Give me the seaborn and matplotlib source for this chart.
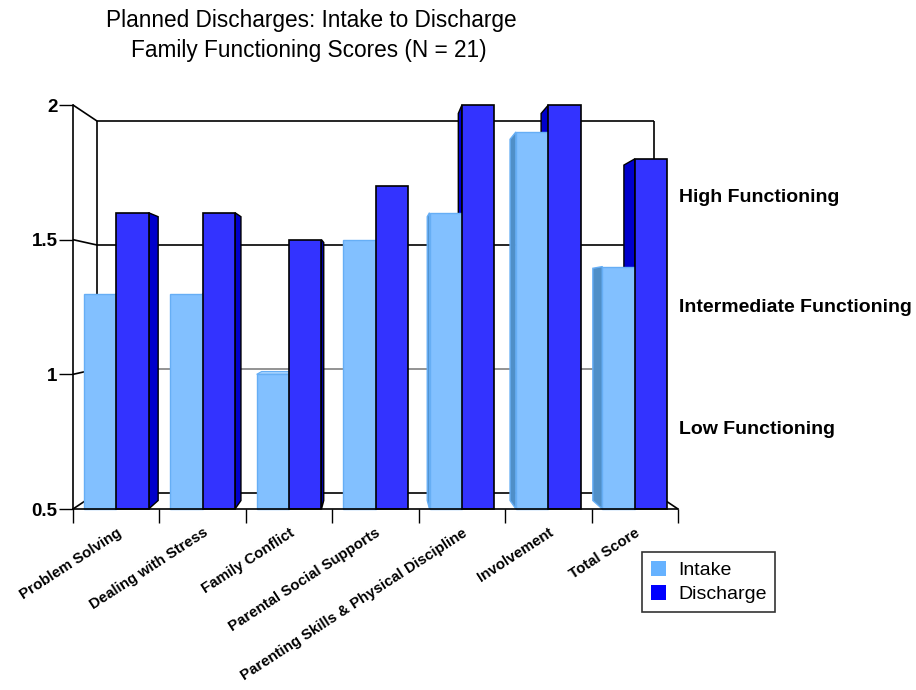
import matplotlib
matplotlib.use("Agg")
import matplotlib.pyplot as plt
from matplotlib.patches import Polygon, Patch
import seaborn as sns
import pandas as pd

categories = [
    "Problem Solving",
    "Dealing with Stress",
    "Family Conflict",
    "Parental Social Supports",
    "Parenting Skills & Physical Discipline",
    "Involvement",
    "Total Score",
]
intake = [1.3, 1.3, 1.0, 1.5, 1.6, 1.9, 1.4]
discharge = [1.6, 1.6, 1.5, 1.7, 2.0, 2.0, 1.8]
series = ["Intake", "Discharge"]
y_ticks = [0.5, 1.0, 1.5, 2.0]
y_tick_labels = ["0.5", "1", "1.5", "2"]
band_labels = ["High Functioning", "Intermediate Functioning", "Low Functioning"]

df = pd.DataFrame({
    "Category": categories * 2,
    "Score": intake + discharge,
    "Time": [series[0]] * len(categories) + [series[1]] * len(categories),
})

sns.set_style("white")
plt.rcParams["font.family"] = ["Liberation Sans", "DejaVu Sans"]
plt.rcParams["text.color"] = "black"
plt.rcParams["xtick.color"] = "black"
plt.rcParams["ytick.color"] = "black"
plt.rcParams["axes.labelcolor"] = "black"

front = {"Intake": "#82C0FF", "Discharge": "#3333FF"}
side = {"Intake": "#4F8FC8", "Discharge": "#0000CC"}
edge = {"Intake": "#66AEF5", "Discharge": "#000000"}
top_col = {"Intake": "#A8D4FF", "Discharge": "#6666FF"}

fig = plt.figure(figsize=(9.16, 6.9), dpi=100)
ax = fig.add_axes([73 / 916, 181 / 690, 605 / 916, 404 / 690])

sns.barplot(data=df, x="Category", y="Score", hue="Time", hue_order=series,
            palette=[front[s] for s in series], width=0.75, saturation=1,
            legend=False, ax=ax)

y0, y1 = 0.5, 2.0
ax.set_ylim(y0, y1)
ax.set_xlim(-0.5, len(categories) - 0.5)

# perspective: vanishing point and depth fractions
vpx, vpy = 3.0, 1.25
wall_f = 0.08
bar_f = 0.042


def persp(x, y, f):
    return x + f * (vpx - x), y + f * (vpy - y)


# back wall, floor and left wall lines
xl, xr = -0.5, len(categories) - 0.5
bl = persp(xl, y0, wall_f)
br = persp(xr, y0, wall_f)
tl = persp(xl, y1, wall_f)
tr = persp(xr, y1, wall_f)
lk = dict(color="black", lw=1.2, zorder=1, clip_on=False, solid_capstyle="butt")
ax.plot([tl[0], tr[0]], [tl[1], tr[1]], **lk)
ax.plot([tl[0], bl[0]], [tl[1], bl[1]], **lk)
ax.plot([tr[0], br[0]], [tr[1], br[1]], **lk)
ax.plot([bl[0], br[0]], [bl[1], br[1]], **lk)
ax.plot([xr, br[0]], [y0, br[1]], **lk)
for v in y_ticks:
    p = persp(xl, v, wall_f)
    ax.plot([xl, p[0]], [v, p[1]], **lk)
for v, c in [(1.5, "black"), (1.0, "#808080")]:
    a = persp(xl, v, wall_f)
    b = persp(xr, v, wall_f)
    ax.plot([a[0], b[0]], [a[1], b[1]], color=c, lw=1.2, zorder=1)

# front faces from seaborn, with side and top faces added in perspective
for name, cont in zip(series, ax.containers):
    for bar in cont:
        h = bar.get_height()
        bar.set_y(y0)
        bar.set_height(h - y0)
        bar.set_edgecolor(edge[name])
        bar.set_linewidth(1.2 if name == "Discharge" else 1.0)
        bar.set_zorder(4)
        bar.set_clip_on(False)
        x0 = bar.get_x()
        w = bar.get_width()
        top = h
        if x0 + w < vpx - 1e-9:
            xe = x0 + w
        elif x0 > vpx + 1e-9:
            xe = x0
        else:
            xe = None
        if xe is not None:
            pts = [(xe, y0), (xe, top), persp(xe, top, bar_f), persp(xe, y0, bar_f)]
            ax.add_patch(Polygon(pts, closed=True, facecolor=side[name],
                                 edgecolor=edge[name], lw=1.0, zorder=3,
                                 clip_on=False))
        if top < vpy:
            pts = [(x0, top), (x0 + w, top), persp(x0 + w, top, bar_f),
                   persp(x0, top, bar_f)]
            ax.add_patch(Polygon(pts, closed=True, facecolor=top_col[name],
                                 edgecolor=edge[name], lw=0.8, zorder=3,
                                 clip_on=False))

# axes styling
for s in ["top", "right"]:
    ax.spines[s].set_visible(False)
for s in ["left", "bottom"]:
    ax.spines[s].set_color("black")
    ax.spines[s].set_linewidth(1.2)
    ax.spines[s].set_zorder(5)

ax.set_yticks(y_ticks)
ax.set_yticklabels(y_tick_labels, fontsize=13.5, fontweight="bold")
ax.tick_params(axis="y", direction="out", length=10, width=1, color="black", pad=1,
               left=True)

ax.set_xticks(range(len(categories)))
ax.set_xticks([i - 0.5 for i in range(len(categories) + 1)], minor=True)
ax.tick_params(axis="x", which="major", length=0, pad=12)
ax.tick_params(axis="x", which="minor", direction="out", length=10, width=1,
               color="black", bottom=True)
ax.set_xticklabels(categories, rotation=33, ha="right", rotation_mode="anchor",
                   fontsize=10.8, fontweight="bold")
ax.set_xlabel("")
ax.set_ylabel("")
ax.grid(False)

# band labels on the right
for lab, ypx in zip(band_labels, [197, 307, 429]):
    fig.text(679 / 916, 1 - ypx / 690, lab, fontsize=14, fontweight="bold",
             ha="left", va="center")

# title
fig.text(311 / 916, 1 - 21 / 690, "Planned Discharges: Intake to Discharge",
         fontsize=16.3, ha="center", va="center")
fig.text(309 / 916, 1 - 51 / 690, "Family Functioning Scores (N = 21)",
         fontsize=16.3, ha="center", va="center")

# legend
handles = [Patch(facecolor="#66B2FF", edgecolor="none"),
           Patch(facecolor="#0000FF", edgecolor="none")]
leg = fig.legend(handles, series, loc="upper left",
                 bbox_to_anchor=(642 / 916, 1 - 552 / 690), fontsize=14,
                 frameon=True, fancybox=False, edgecolor="black",
                 handlelength=0.8, handleheight=0.8, handletextpad=0.6,
                 borderpad=0.45, labelspacing=0.3, borderaxespad=0)
leg.get_frame().set_linewidth(1.2)

fig.savefig("out.png", dpi=100)
